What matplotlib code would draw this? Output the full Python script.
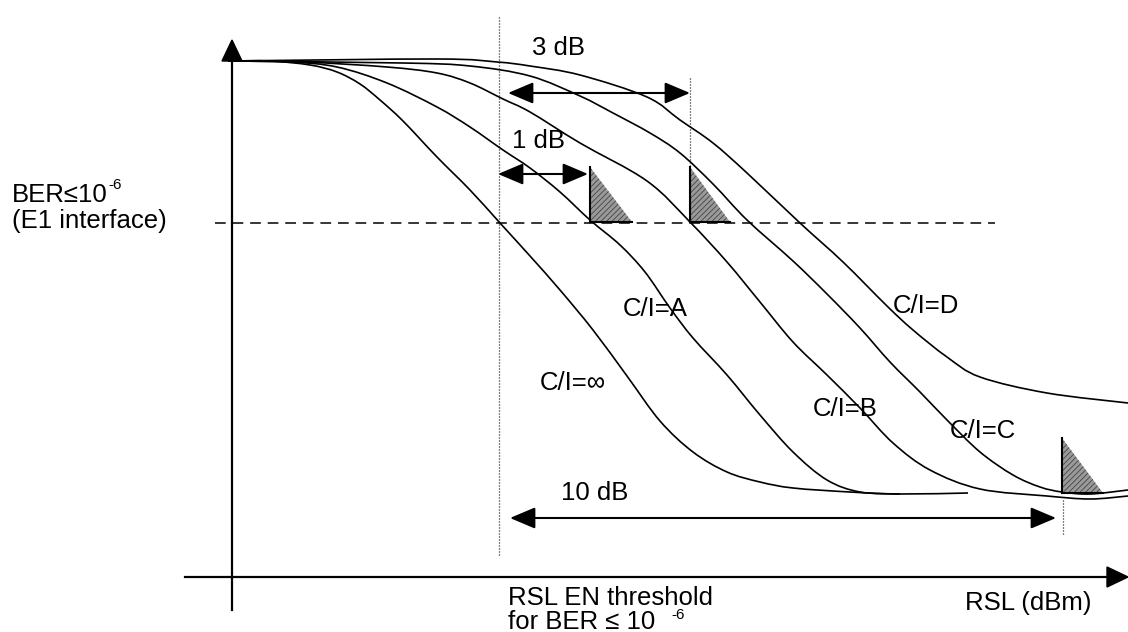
import matplotlib
matplotlib.use("Agg")
import matplotlib.pyplot as plt
import numpy as np
from matplotlib.patches import Polygon, PathPatch, ArrowStyle
from matplotlib.path import Path

plt.rcParams['font.family'] = ['Liberation Sans', 'DejaVu Sans']
plt.rcParams['hatch.linewidth'] = 0.6

# ---- curve data (diagram coordinates: x = RSL position, y = BER position, top = 61) ----
curve_inf_x = [228, 270, 310, 337, 360, 380, 403, 437, 470, 500, 530, 560, 593, 627, 660, 693, 727, 760, 793, 850, 900, 968]
curve_inf_y = [61, 61, 65, 72, 84, 100, 121, 157, 190, 223, 256, 290, 330, 376, 421, 452, 472, 482, 488, 492, 494, 493]

curve_a_x = [228, 290, 337, 387, 437, 470, 503, 530, 560, 590, 620, 645, 670, 693, 727, 760, 793, 827, 860, 900]
curve_a_y = [61, 62, 67, 83, 107, 127, 150, 168, 192, 220, 245, 272, 308, 338, 375, 415, 452, 480, 492, 494]

curve_b_x = [228, 303, 387, 437, 470, 503, 530, 580, 647, 690, 727, 760, 793, 827, 860, 893, 930, 980, 1047, 1090, 1128]
curve_b_y = [61, 62, 67, 73, 83, 99, 112, 143, 181, 222, 262, 302, 342, 375, 408, 443, 470, 489, 496, 499, 496]

curve_c_x = [228, 403, 470, 530, 580, 613, 650, 680, 713, 747, 793, 827, 860, 890, 920, 947, 980, 1013, 1040, 1062, 1090, 1128]
curve_c_y = [61, 63, 66, 76, 96, 113, 133, 153, 184, 220, 261, 294, 328, 362, 392, 420, 452, 475, 487, 492, 494, 490]

curve_d_x = [228, 437, 497, 530, 580, 647, 680, 713, 747, 800, 843, 887, 913, 947, 980, 1047, 1128]
curve_d_y = [61, 59, 62, 66, 75, 97, 120, 143, 173, 223, 262, 306, 330, 357, 377, 393, 403]

curve_labels = ["C/I=\u221e", "C/I=A", "C/I=B", "C/I=C", "C/I=D"]

# dB spacing annotations
db_labels = ["3 dB", "1 dB", "10 dB"]

fig = plt.figure(figsize=(11.28, 6.32), dpi=100)
ax = fig.add_axes([0, 0, 1, 1])
ax.set_xlim(0, 1128)
ax.set_ylim(632, 0)
ax.axis('off')


def smooth_path(xs, ys):
    """Catmull-Rom style cubic Bezier path through the given points."""
    p = np.column_stack([xs, ys]).astype(float)
    verts = [p[0]]
    codes = [Path.MOVETO]
    n = len(p)
    for i in range(n - 1):
        p0 = p[i - 1] if i > 0 else p[i]
        p1 = p[i]
        p2 = p[i + 1]
        p3 = p[i + 2] if i + 2 < n else p[i + 1]
        c1 = p1 + (p2 - p0) / 6.0
        c2 = p2 - (p3 - p1) / 6.0
        verts += [c1, c2, p2]
        codes += [Path.CURVE4] * 3
    return Path(verts, codes)


lw_curve = 1.2
for xs, ys in [(curve_inf_x, curve_inf_y), (curve_a_x, curve_a_y), (curve_b_x, curve_b_y),
               (curve_c_x, curve_c_y), (curve_d_x, curve_d_y)]:
    ax.add_patch(PathPatch(smooth_path(xs, ys), facecolor='none', edgecolor='black',
                           lw=lw_curve, capstyle='butt'))

# axes
ax.plot([232, 232], [610, 58], color='black', lw=1.6)
ax.add_patch(Polygon([[222, 61], [242, 61], [232, 40]], closed=True, color='black'))
ax.plot([185, 1112], [577, 577], color='black', lw=1.6)
ax.add_patch(Polygon([[1107, 567], [1107, 587], [1128, 577]], closed=True, color='black'))

# BER threshold dashed line
ax.plot([215, 995], [223, 223], color='black', lw=1.1, dashes=(7, 4.5))

# dotted verticals
ax.plot([499, 499], [17, 556], color='black', lw=0.9, dashes=(0.8, 1.6))
ax.plot([690, 690], [78, 222], color='black', lw=0.9, dashes=(0.8, 1.6))
ax.plot([1063, 1063], [500, 534], color='black', lw=0.9, dashes=(0.8, 1.6))

# double arrows
style = ArrowStyle('<|-|>', head_length=1.3, head_width=0.55)


def darrow(x0, x1, y):
    ax.annotate('', xy=(x1, y), xytext=(x0, y),
                arrowprops=dict(arrowstyle=style, mutation_scale=12, color='black',
                                lw=1.5, shrinkA=0, shrinkB=0))


darrow(508, 690, 93)
darrow(498, 588, 174)
darrow(510, 1056, 518)

# hatched triangles
for (tx, ty, tx2, yb) in [(590, 167, 632, 222), (690, 167, 730, 222), (1062, 438, 1103, 493)]:
    ax.add_patch(Polygon([[tx, ty], [tx, yb], [tx2, yb]], closed=True,
                         facecolor='#9a9a9a', edgecolor='#444444', hatch='//////', lw=0))
    ax.plot([tx, tx], [ty, yb], color='black', lw=1.5)
    ax.plot([tx, tx2], [yb, yb], color='black', lw=1.5)

fs = 18.5
# curve labels
ax.text(540, 390, curve_labels[0], fontsize=fs, va='baseline', ha='left')
ax.text(623, 316, curve_labels[1], fontsize=fs, va='baseline', ha='left')
ax.text(813, 416, curve_labels[2], fontsize=fs, va='baseline', ha='left')
ax.text(950, 438, curve_labels[3], fontsize=fs, va='baseline', ha='left')
ax.text(893, 313, curve_labels[4], fontsize=fs, va='baseline', ha='left')

# dB labels
ax.text(532, 55, db_labels[0], fontsize=fs, va='baseline', ha='left')
ax.text(512, 148, db_labels[1], fontsize=fs, va='baseline', ha='left')
ax.text(561, 500, db_labels[2], fontsize=fs, va='baseline', ha='left')

# left labels
ax.text(12, 202, "BER\u226410", fontsize=fs, va='baseline', ha='left')
ax.text(108, 189, "-6", fontsize=11, va='baseline', ha='left')
ax.text(12, 228, "(E1 interface)", fontsize=fs, va='baseline', ha='left')

# bottom labels
ax.text(508, 605, "RSL EN threshold", fontsize=fs, va='baseline', ha='left')
ax.text(508, 629, "for BER \u2264 10", fontsize=fs, va='baseline', ha='left')
ax.text(671, 619, "-6", fontsize=11, va='baseline', ha='left')
ax.text(965, 610, "RSL (dBm)", fontsize=fs, va='baseline', ha='left')

fig.savefig("out.png", dpi=100)
